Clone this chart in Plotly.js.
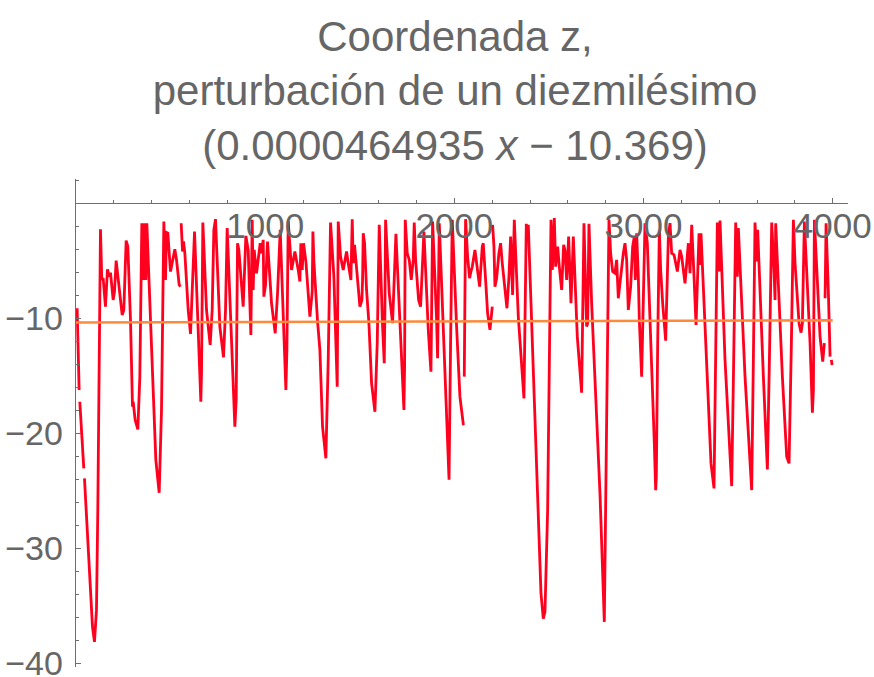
<!DOCTYPE html>
<html>
<head>
<meta charset="utf-8">
<script src="https://cdn.plot.ly/plotly-3.0.1.min.js"></script>
<style>html,body{margin:0;padding:0;background:#fff;}#chart{width:874px;height:677px;}</style>
</head>
<body>
<div id="chart"></div>
<script>
// Series: z-coordinate perturbation; null = gap in the curve
const zX = [6.0,16.6,18.3,20.1,41.2,43.0,44.8,73.0,87.1,97.7,108.2,115.3,122.3,129.4,136.4,143.5,155.8,166.4,175.2,182.3,196.4,203.4,212.3,219.3,228.1,244.0,252.8,265.1,274.0,288.1,298.6,300.4,302.2,312.7,326.9,337.4,348.0,355.1,362.1,369.2,374.5,399.1,422.1,439.7,452.0,464.4,473.2,478.5,485.5,499.6,522.5,531.4,545.5,552.5,554.2,556.0,563.1,568.4,575.4,593.1,605.4,626.6,
659.9,663.5,670.5,689.9,709.3,719.9,728.7,737.5,760.4,779.8,790.4,799.2,818.6,839.8,846.8,853.9,860.9,883.8,897.9,910.3,924.4,931.4,936.7,942.0,954.4,966.7,973.7,980.8,989.6,993.1,1002.0,1012.5,1033.7,1053.1,1065.4,1079.5,1095.4,1104.2,1109.5,1114.8,1121.8,1139.5,1157.1,1174.7,1183.5,1188.8,1195.9,1202.9,1215.3,1236.4,1248.8,1252.3,1257.6,1277.0,
1289.2,1303.3,1320.9,1333.3,1345.6,1363.2,1373.8,1380.9,1386.2,1398.5,1412.6,1430.2,1439.1,1453.2,1460.2,1465.5,1472.5,1479.6,1492.0,1500.8,1511.3,1514.9,1518.4,1525.4,1536.0,1548.4,1562.5,1580.1,1592.4,1603.0,1620.6,1629.5,1633.0,1636.5,1655.9,1673.5,1691.2,1715.9,1733.5,1737.0,1740.5,1751.1,1761.7,1772.3,1782.8,1788.1,1795.2,1811.0,1821.6,1839.2,1862.2,1876.3,1885.1,1906.2,1911.5,1920.4,1945.0,
1972.0,1980.2,1989.0,2011.9,2029.5,2047.2,2050.7,2051.6,2052.5,2059.5,2070.1,2080.7,2087.7,2094.8,2108.9,2119.4,2133.6,2147.7,2152.9,2165.3,2175.9,2188.2,2197.0,2200.5,2201.4,2202.3,2209.4,2214.7,2223.5,2235.8,2244.6,2253.4,2267.5,2278.1,2288.7,2297.5,2308.1,2316.9,2338.1,2355.7,2368.0,2380.4,2385.7,2391.0,2408.6,2435.0,2458.0,2470.3,2479.1,2493.2,2503.8,2510.9,2517.9,2528.5,2535.5,2546.1,2554.9,2567.3,2577.8,2584.9,2593.7,2604.3,2616.6,2629.0,
2650.0,2672.9,2685.2,2699.4,2704.6,2711.7,2725.8,2743.4,2769.9,2792.8,2805.1,2817.5,2826.3,2836.9,2849.2,2858.0,2866.8,2875.7,2884.5,2893.3,2902.1,2910.9,2919.7,2932.1,2942.6,2951.5,2956.7,2963.8,2972.6,2977.9,2990.2,2999.1,3007.9,3020.2,3043.1,3057.2,3064.3,3067.8,3074.9,3083.7,3090.7,3101.3,3117.2,3131.3,3140.1,3148.9,3161.3,3178.9,3193.0,3201.8,3219.4,3237.1,3245.9,3254.7,3267.0,3277.6,3293.5,
3296.9,3303.9,3311.0,3333.9,3356.8,3372.7,3381.5,3390.3,3399.1,3404.4,3430.9,3466.1,3476.7,3487.3,3496.1,3501.4,3536.6,3571.9,3580.7,3589.5,3598.4,3603.6,3633.6,3654.8,3667.1,3677.7,3690.0,3695.3,3698.8,3734.1,3757.0,3769.4,3781.7,3792.3,3801.1,3822.2,3832.8,3839.9,3850.4,3880.4,3892.8,3898.1,3903.4,3910.4,3921.0,3933.3,3947.4,3956.2,3958.0,3959.8,3965.1,3977.4,3986.2,3989.8,3993.3,3996.8];
const zY = [-9.13,-16.23,null,-17.25,-23.04,null,-23.91,-32.46,-36.81,-38.12,-35.36,-26.67,-12.17,-2.26,-6.67,-6.52,-8.99,-5.74,-6.38,-6.03,-8.41,-7.68,-4.99,-5.94,-7.54,-9.71,-9.28,-3.25,-3.77,-10.14,-17.68,null,-17.25,-18.84,-19.65,-15.07,-1.74,-6.67,-1.74,-6.67,-1.74,-12.17,-22.32,-25.16,-17.97,-1.59,-6.67,-2.55,-2.61,-5.94,-4.00,-4.93,-7.10,-7.25,null,-1.74,-4.20,-3.33,-4.35,-9.28,-11.36,-2.46,
-17.25,-14.78,-1.68,-9.28,-12.32,-9.28,-2.32,-1.39,-10.72,-13.39,-9.28,-2.17,-9.86,-19.42,-17.10,-3.48,-4.06,-8.99,-2.84,-4.06,-11.45,-1.45,-7.54,-4.06,-6.09,-4.35,-3.48,-4.35,-3.19,-8.12,-7.10,-3.33,-8.70,-11.30,-7.83,-2.32,-9.28,-12.75,-16.23,-12.75,-1.59,-5.80,-4.20,-5.80,-6.81,-3.48,-5.80,-3.48,-5.07,-9.86,-7.68,-2.46,-5.07,-10.29,
-12.75,-19.42,-22.17,-13.62,-1.68,-6.38,-12.32,-15.94,-1.59,-4.64,-5.80,-4.20,-5.22,-6.67,-1.39,-5.22,-3.62,-4.93,-7.83,-8.99,-8.41,-6.67,-2.61,-3.48,-7.54,-10.43,-15.65,-18.12,-12.17,-1.88,-10.72,-13.91,-9.28,-1.45,-7.83,-10.43,-2.67,-11.59,-17.97,-14.20,-1.45,-4.35,-4.93,-6.67,-4.93,-1.68,-4.93,-8.41,-8.99,-2.46,-11.01,-14.64,-1.59,-10.14,-13.48,-1.74,-12.17,
-24.03,-12.17,-1.45,-10.72,-16.81,-19.19,-19.28,null,-15.07,-1.39,-4.64,-6.52,-5.94,-5.51,-4.06,-5.65,-7.25,-3.77,-3.48,-6.67,-9.57,-11.01,-9.13,-8.99,null,-1.88,-3.77,-7.25,-6.52,-4.35,-3.48,-5.22,-7.83,-9.13,-6.38,-2.90,-7.97,-1.45,-9.86,-14.49,-16.96,-1.80,-2.32,-1.88,-10.72,-23.77,-33.91,-36.09,-35.51,-26.67,-12.17,-1.45,-5.80,-1.30,-5.51,-3.77,-5.51,-7.54,-3.62,-4.06,-6.67,-2.90,-8.70,-2.90,
-11.59,-16.46,-1.74,-10.72,-10.43,-1.80,-8.70,-15.07,-25.22,-36.38,-20.87,-1.45,-4.35,-5.94,-6.09,-4.93,-8.26,-6.81,-5.94,-4.35,-3.48,-4.93,-9.28,-7.25,-3.77,-2.90,-6.67,-2.61,-6.38,-10.14,-15.07,-9.28,-1.74,-3.48,-13.62,-20.87,-24.93,-23.77,-12.17,-2.32,-5.80,-8.70,-11.94,-2.90,-1.74,-4.35,-4.49,-5.94,-4.06,-4.64,-6.96,-3.48,-6.09,-1.88,-6.38,-10.58,-2.61,
-5.36,-2.61,-5.22,-15.07,-22.61,-24.78,-13.62,-1.68,-5.94,-1.51,-13.62,-24.58,-13.62,-1.68,-6.38,-2.17,-15.07,-24.93,-13.62,-1.68,-5.07,-2.32,-15.07,-23.13,-12.17,-1.68,-5.80,-8.41,-1.74,-15.07,-22.03,-22.61,-12.17,-1.45,-5.22,-10.43,-11.25,-10.43,-1.59,-12.17,-18.20,-16.23,-1.45,-3.77,-7.83,-11.59,-13.77,-12.17,null,-8.26,-1.74,-7.83,-13.33,null,-13.62,-14.06];

// Linear fit shown in the title: 0.0000464935 x - 10.369
const fitX = [0, 4000];
const fitY = [-10.369, -10.183];

const xTickVals = [1000, 2000, 3000, 4000];
const xTickText = ['1000', '2000', '3000', '4000'];
const yTickVals = [-10, -20, -30, -40];
const yTickText = ['\u221210', '\u221220', '\u221230', '\u221240'];

const axisColor = '#6e6e6e';
const labelColor = '#666666';
const fontFam = '"Liberation Sans", Arial, Helvetica, sans-serif';

const traces = [
  {x: zX, y: zY, type: 'scatter', mode: 'lines', connectgaps: false,
   line: {color: '#ff001e', width: 2.8}, hoverinfo: 'skip'},
  {x: fitX, y: fitY, type: 'scatter', mode: 'lines',
   line: {color: '#fb8a3c', width: 2.6}, hoverinfo: 'skip'}
];

const layout = {
  width: 874, height: 677,
  margin: {l: 76, r: 26, t: 179, b: 10},
  paper_bgcolor: '#ffffff', plot_bgcolor: '#ffffff',
  showlegend: false,
  font: {family: fontFam, color: labelColor},
  title: {
    text: 'Coordenada z,<br>perturbación de un diezmilésimo<br>(0.0000464935 <i>x</i> \u2212 10.369)',
    font: {family: fontFam, size: 42, color: labelColor},
    xref: 'container', x: 0.5206, xanchor: 'center',
    yref: 'container', y: 0.925, yanchor: 'middle'
  },
  xaxis: {
    range: [0, 4081], anchor: 'free', position: 0.9505,
    showline: true, linecolor: axisColor, linewidth: 1.3,
    showgrid: false, zeroline: false,
    tickmode: 'array', tickvals: xTickVals, ticktext: xTickText,
    ticks: 'inside', ticklen: 5, tickwidth: 1.2, tickcolor: axisColor,
    minor: {tickmode: 'linear', tick0: 0, dtick: 200, ticks: 'inside', ticklen: 3.5, tickwidth: 1, tickcolor: axisColor, showgrid: false},
    tickfont: {family: fontFam, size: 35, color: labelColor},
    ticklabelstandoff: -8,
    ticklabeloverflow: 'allow'
  },
  yaxis: {
    range: [-40.3, 2.1],
    showline: true, linecolor: axisColor, linewidth: 1.3,
    showgrid: false, zeroline: false,
    tickmode: 'array', tickvals: yTickVals, ticktext: yTickText,
    ticks: 'inside', ticklen: 5, tickwidth: 1.2, tickcolor: axisColor,
    minor: {tickmode: 'linear', tick0: 0, dtick: 2, ticks: 'inside', ticklen: 3, tickwidth: 1, tickcolor: axisColor, showgrid: false},
    tickfont: {family: fontFam, size: 34, color: labelColor},
    ticklabelstandoff: 5,
    ticklabeloverflow: 'allow'
  }
};

Plotly.newPlot('chart', traces, layout, {staticPlot: true, displayModeBar: false});
</script>
</body>
</html>
